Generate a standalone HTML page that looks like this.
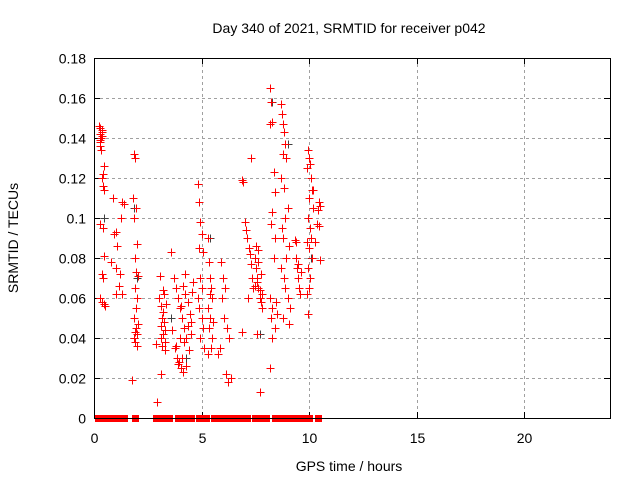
<!DOCTYPE html>
<html><head><meta charset="utf-8"><style>
body{margin:0;background:#fff}
svg{display:block;font-family:"Liberation Sans",sans-serif}
</style></head><body>
<svg id="chart" width="640" height="480" xmlns="http://www.w3.org/2000/svg">
<rect width="640" height="480" fill="#fff"/>
<text x="349" y="33" font-size="14" text-anchor="middle">Day 340 of 2021, SRMTID for receiver p042</text>
<text x="349" y="471" font-size="14" text-anchor="middle">GPS time / hours</text>
<text transform="translate(18,238) rotate(-90)" font-size="14" text-anchor="middle">SRMTID / TECUs</text>
<g id="grid"></g><g id="ticks"></g><g id="pts" shape-rendering="crispEdges"></g>
<rect x="94.5" y="58.5" width="516" height="360" fill="none" stroke="#000" stroke-width="1"/>
</svg>
<script>
const xTicks=[0,5,10,15,20];
const yTicks=[0,0.02,0.04,0.06,0.08,0.1,0.12,0.14,0.16,0.18];
const yTickLabels=["0","0.02","0.04","0.06","0.08","0.1","0.12","0.14","0.16","0.18"];
const redX=[0.25,0.3,0.35,0.28,0.33,0.3,0.27,0.32,0.38,0.36,0.3,0.45,0.4,0.35,0.42,0.48,0.3,0.4,0.45,0.35,0.42,0.3,0.38,0.45,0.5,
0.9,1.0,0.95,1.05,0.8,1.0,1.2,1.15,1.3,1.0,1.25,1.4,1.3,
1.85,1.9,1.8,1.95,1.85,2.0,1.9,1.95,2.05,1.9,2.0,1.95,1.85,2.05,1.95,1.9,2.0,1.85,1.9,2.0,1.75,
2.95,2.9,3.1,3.2,3.15,3.25,3.1,3.3,3.2,3.1,3.3,3.15,3.0,3.25,3.2,3.05,3.35,3.3,3.1,
3.6,3.7,3.8,3.9,4.0,4.1,4.2,4.3,3.75,3.85,3.95,4.05,4.15,4.25,4.35,4.45,4.5,3.65,4.0,4.2,4.4,4.1,3.9,4.3,4.25,4.35,4.5,4.55,4.05,3.8,4.15,4.6,
4.85,4.9,4.95,5.0,4.9,5.05,4.95,5.0,4.85,4.9,5.0,5.05,4.95,5.1,
5.3,5.35,5.4,5.45,5.5,5.3,5.4,5.35,5.5,5.45,5.3,5.4,5.55,
5.9,6.0,6.1,5.95,6.05,6.2,6.3,5.85,6.15,6.25,6.35,5.75,
6.9,6.95,7.0,7.05,7.1,7.2,7.25,7.3,7.35,7.4,7.15,6.9,7.3,
7.5,7.55,7.6,7.65,7.7,7.75,7.8,7.6,7.7,7.55,7.65,7.75,7.6,7.7,7.8,7.5,7.65,
8.2,8.25,8.3,8.2,8.35,8.4,8.3,8.25,8.4,8.35,8.2,8.3,8.25,8.4,8.3,8.2,8.45,8.5,
8.7,8.75,8.8,8.85,8.9,8.8,8.95,8.7,8.85,9.0,8.9,8.75,8.8,9.05,8.95,8.7,8.85,8.9,9.0,9.1,8.8,9.05,
9.35,9.4,9.45,9.5,9.55,9.6,9.4,9.5,9.65,
9.95,10.0,10.05,9.9,10.1,10.15,10.0,10.2,9.95,10.05,10.1,9.9,10.0,10.15,9.95,10.05,10.0,9.9,9.95,10.45,10.5,10.4,10.35,10.45,10.3,10.5,10.2];
const redY=[0.146,0.145,0.144,0.142,0.14,0.138,0.136,0.134,0.143,0.141,0.139,0.126,0.122,0.12,0.116,0.114,0.097,0.095,0.081,0.072,0.07,0.06,0.058,0.057,0.056,
0.11,0.093,0.092,0.086,0.078,0.075,0.072,0.066,0.062,0.062,0.1,0.107,0.108,
0.132,0.13,0.11,0.105,0.1,0.087,0.08,0.073,0.071,0.065,0.06,0.055,0.05,0.047,0.045,0.043,0.042,0.04,0.038,0.036,0.019,
0.008,0.037,0.056,0.053,0.05,0.048,0.046,0.044,0.042,0.04,0.038,0.036,0.06,0.062,0.064,0.071,0.057,0.034,0.022,
0.083,0.07,0.065,0.06,0.055,0.05,0.045,0.04,0.035,0.03,0.028,0.025,0.066,0.062,0.058,0.052,0.048,0.044,0.04,0.038,0.034,0.03,0.027,0.026,0.072,0.046,0.042,0.063,0.056,0.036,0.023,0.068,
0.117,0.108,0.098,0.092,0.085,0.083,0.07,0.065,0.06,0.055,0.05,0.045,0.04,0.035,
0.09,0.078,0.07,0.065,0.06,0.055,0.05,0.045,0.04,0.035,0.032,0.062,0.048,
0.078,0.07,0.065,0.06,0.05,0.045,0.04,0.035,0.022,0.018,0.02,0.032,
0.119,0.118,0.098,0.094,0.09,0.085,0.082,0.077,0.07,0.065,0.06,0.043,0.13,
0.08,0.075,0.07,0.065,0.06,0.058,0.055,0.042,0.013,0.086,0.084,0.072,0.068,0.064,0.062,0.066,0.078,
0.165,0.158,0.148,0.147,0.123,0.113,0.103,0.097,0.09,0.08,0.06,0.055,0.05,0.045,0.04,0.025,0.058,0.052,
0.157,0.152,0.147,0.143,0.137,0.132,0.13,0.12,0.115,0.105,0.1,0.095,0.09,0.086,0.08,0.075,0.07,0.065,0.06,0.055,0.05,0.047,
0.089,0.08,0.075,0.07,0.065,0.062,0.088,0.077,0.073,
0.134,0.13,0.127,0.125,0.12,0.114,0.11,0.105,0.1,0.095,0.09,0.088,0.085,0.08,0.075,0.07,0.065,0.062,0.052,0.108,0.106,0.104,0.097,0.096,0.088,0.079,0.114];
const grayX=[1.85,2.0,3.6,4.3,5.4,7.7,8.3,9.0,10.1,0.45];
const grayY=[0.105,0.07,0.05,0.03,0.09,0.042,0.158,0.137,0.08,0.1];
const zeroX=[0.2,0.35,0.7,0.9,1.0,1.2,1.4,1.9,2.9,3.0,3.3,3.5,3.9,4.1,4.3,4.5,4.9,5.0,5.2,5.6,5.8,6.1,6.3,6.5,6.8,7.1,7.5,7.7,8.0,8.4,8.5,8.7,8.9,9.2,9.3,9.4,9.6,9.9,10.0,10.4];
const X=v=>94+v*516/24, Y=v=>418-v*2000;
const ns="http://www.w3.org/2000/svg";
function mk(t,a,p){const e=document.createElementNS(ns,t);for(const k in a)e.setAttribute(k,a[k]);p.appendChild(e);return e;}
const grid=document.getElementById('grid'),ticks=document.getElementById('ticks'),pts=document.getElementById('pts');
yTicks.forEach((v,i)=>{const y=Math.round(Y(v))+0.5;
 if(i>0&&i<yTicks.length-1){const g=mk('line',{x1:94,x2:610,y1:y,y2:y,stroke:'#a0a0a0','stroke-dasharray':'3,3'},grid);
 
 }
 mk('line',{x1:94,x2:100,y1:y,y2:y,stroke:'#000'},ticks);mk('line',{x1:604,x2:610,y1:y,y2:y,stroke:'#000'},ticks);
 const t=mk('text',{x:86,y:y+5,'font-size':14,'text-anchor':'end'},ticks);t.textContent=yTickLabels[i];
 
 });
xTicks.forEach(v=>{const x=Math.round(X(v))+0.5;
 if(v>0){const g=mk('line',{x1:x,x2:x,y1:58,y2:418,stroke:'#a0a0a0','stroke-dasharray':'3,3'},grid);
 
 }
 mk('line',{x1:x,x2:x,y1:418,y2:412,stroke:'#000'},ticks);mk('line',{x1:x,x2:x,y1:58,y2:64,stroke:'#000'},ticks);
 const t=mk('text',{x:x,y:443,'font-size':14,'text-anchor':'middle'},ticks);t.textContent=v;
 
 });
function plus(x,y,c){x=Math.round(x)+0.5;y=Math.round(y)+0.5;const p=mk('path',{d:`M${x-4},${y}h8M${x},${y-4}v8`,stroke:c,'stroke-width':1},pts);return p;}
grayX.forEach((x,i)=>{const p=plus(X(x),Y(grayY[i]),'#404040');
 
 });
redX.forEach((x,i)=>{const p=plus(X(x),Y(redY[i]),'#ff0000');
 
 });
zeroX.forEach(x=>{const p=mk('rect',{x:Math.round(X(x))-3,y:415,width:7,height:7,fill:'#ff0000'},pts);
 
 });
</script>
</body></html>
